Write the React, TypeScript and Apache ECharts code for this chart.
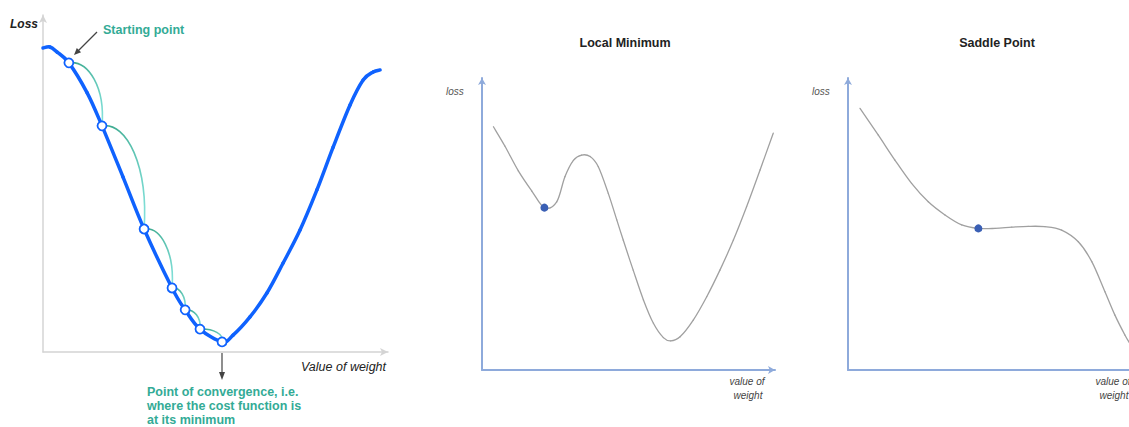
import React, { useEffect, useRef } from "react";
import * as echarts from "echarts";

// ---- Left panel: gradient descent on a loss curve ----
const leftWeight = [0, 2.0, 4.1, 7.5, 12.8, 17.1, 23.2, 29.3, 37.4, 41.2, 45.5, 51.9, 55.1, 60.0, 64.9, 69.6, 74.5, 79.4, 84.1, 89.0, 92.8, 95.7, 97.7];
const leftLoss = [90.2, 90.5, 89.0, 85.8, 76.9, 67.1, 51.9, 36.5, 19.0, 12.5, 6.8, 3.0, 5.0, 10.4, 17.5, 26.4, 36.2, 48.1, 60.8, 73.3, 80.7, 83.1, 83.7];
const stepWeight = [7.5, 17.1, 29.3, 37.4, 41.2, 45.5, 51.9];
const stepLoss = [85.8, 67.1, 36.5, 19.0, 12.5, 6.8, 3.0];

// ---- Middle panel: local minimum ----
const localWeight = [3.9, 7.8, 12.4, 17.0, 21.3, 25.5, 28.3, 31.2, 34.0, 36.9, 39.7, 43.1, 46.0, 48.2, 51.6, 55.1, 58.5, 61.9, 64.4, 67.6, 72.1, 76.7, 81.2, 85.8, 90.3, 94.9, 99.4];
const localLoss = [83.3, 76.7, 68.2, 61.3, 55.6, 57.6, 66.2, 71.8, 73.6, 73.1, 69.6, 60.5, 51.4, 44.5, 34.2, 24.0, 16.0, 11.1, 10.0, 11.4, 17.1, 25.1, 34.2, 44.5, 55.9, 68.5, 81.1];
const localPoint = [21.3, 55.6];

// ---- Right panel: saddle point ----
const saddleWeight = [4.1, 10.3, 16.0, 21.7, 27.4, 33.1, 38.8, 44.5, 50.2, 55.9, 61.5, 67.2, 72.9, 78.6, 83.2, 87.7, 91.1, 94.5, 96.2];
const saddleLoss = [89.6, 80.5, 71.9, 63.9, 57.6, 53.1, 49.7, 48.5, 48.5, 48.9, 49.2, 49.1, 47.9, 43.9, 37.1, 26.8, 18.8, 12.0, 9.1];
const saddlePoint = [44.5, 48.5];

const titles = ["Local Minimum", "Saddle Point"];

const FONT = '"Liberation Sans", Arial, sans-serif';
const TEAL = "#33ab96";
const BLUE = "#0f62fe";

const zip = (a: number[], b: number[]) => a.map((v, i) => [v, b[i]]);

function axisPair(gridIndex: number, color: string, width: number, arrow: number[]) {
  const common = {
    gridIndex,
    type: "value" as const,
    min: 0,
    max: 100,
    axisTick: { show: false },
    axisLabel: { show: false },
    splitLine: { show: false },
    axisLine: {
      show: true,
      symbol: ["none", "arrow"],
      symbolSize: arrow,
      lineStyle: { color, width },
    },
  };
  return { x: { ...common }, y: { ...common } };
}

// Smooth curve through the data points (Catmull-Rom segments), positioned by the axes.
function curveSeries(axis: number, xs: number[], ys: number[], stroke: string, lineWidth: number, z: number) {
  const pts = zip(xs, ys);
  return {
    type: "custom",
    xAxisIndex: axis,
    yAxisIndex: axis,
    z,
    silent: true,
    clip: false,
    data: pts,
    renderItem: (params: any, api: any) => {
      const i = params.dataIndex;
      if (i >= pts.length - 1) return null;
      const c = (k: number) => api.coord(pts[Math.max(0, Math.min(pts.length - 1, k))]);
      const p0 = c(i - 1);
      const p1 = c(i);
      const p2 = c(i + 1);
      const p3 = c(i + 2);
      const t = 1 / 6;
      return {
        type: "bezierCurve",
        shape: {
          x1: p1[0],
          y1: p1[1],
          x2: p2[0],
          y2: p2[1],
          cpx1: p1[0] + (p2[0] - p0[0]) * t,
          cpy1: p1[1] + (p2[1] - p0[1]) * t,
          cpx2: p2[0] - (p3[0] - p1[0]) * t,
          cpy2: p2[1] - (p3[1] - p1[1]) * t,
        },
        style: { stroke, lineWidth, fill: "none", lineCap: "round" },
      };
    },
  };
}

export default function App() {
  const ref = useRef<HTMLDivElement>(null);

  useEffect(() => {
    if (!ref.current) return;
    const chart = echarts.init(ref.current, undefined, { renderer: "svg" });

    const a0 = axisPair(0, "#d4d4d4", 1.5, [6, 8]);
    const a1 = axisPair(1, "#8eaadb", 2, [6, 7]);
    const a2 = axisPair(2, "#8eaadb", 2, [6, 7]);

    const arcs = stepWeight.slice(0, -1).map((w, i) => [w, stepLoss[i], stepWeight[i + 1], stepLoss[i + 1]]);

    const arcGradient = new echarts.graphic.LinearGradient(0, 0, 1, 1, [
      { offset: 0, color: "#35a487" },
      { offset: 1, color: "#86e4de" },
    ]);

    const text = (x: number, y: number, t: string, font: string, fill: string, align = "left") => ({
      type: "text",
      x,
      y,
      silent: true,
      style: { text: t, font, fill, align, verticalAlign: "middle" },
    });

    chart.setOption({
      animation: false,
      backgroundColor: "#ffffff",
      grid: [
        { left: 43, top: 15, width: 345, height: 337, outerBoundsMode: "none" },
        { left: 482, top: 78, width: 293, height: 292, outerBoundsMode: "none" },
        { left: 848, top: 78, width: 293, height: 292, outerBoundsMode: "none" },
      ],
      xAxis: [a0.x, a1.x, a2.x],
      yAxis: [a0.y, a1.y, a2.y],
      series: [
        {
          type: "custom",
          xAxisIndex: 0,
          yAxisIndex: 0,
          z: 1,
          silent: true,
          data: arcs,
          renderItem: (_p: any, api: any) => {
            const p0 = api.coord([api.value(0), api.value(1)]);
            const p1 = api.coord([api.value(2), api.value(3)]);
            const dx = p1[0] - p0[0];
            const dy = p1[1] - p0[1];
            return {
              type: "bezierCurve",
              shape: {
                x1: p0[0],
                y1: p0[1],
                x2: p1[0],
                y2: p1[1],
                cpx1: p0[0] + 0.6 * dx,
                cpy1: p0[1] - 0.04 * dy,
                cpx2: p1[0] + 0.1 * dx,
                cpy2: p1[1] - 0.6 * dy,
              },
              style: { stroke: arcGradient, lineWidth: 1.6, fill: "none" },
            };
          },
        },
        curveSeries(0, leftWeight, leftLoss, BLUE, 3.5, 2),
        {
          type: "scatter",
          xAxisIndex: 0,
          yAxisIndex: 0,
          z: 3,
          data: zip(stepWeight, stepLoss),
          symbol: "circle",
          symbolSize: 9,
          silent: true,
          itemStyle: { color: "#ffffff", borderColor: BLUE, borderWidth: 1.8, opacity: 1 },
        },
        curveSeries(1, localWeight, localLoss, "#a0a0a0", 1.3, 2),
        {
          type: "scatter",
          xAxisIndex: 1,
          yAxisIndex: 1,
          z: 3,
          data: [localPoint],
          symbolSize: 8,
          silent: true,
          itemStyle: { color: "#3a5fb4", opacity: 1 },
        },
        curveSeries(2, saddleWeight, saddleLoss, "#a0a0a0", 1.3, 2),
        {
          type: "scatter",
          xAxisIndex: 2,
          yAxisIndex: 2,
          z: 3,
          data: [saddlePoint],
          symbolSize: 8,
          silent: true,
          itemStyle: { color: "#3a5fb4", opacity: 1 },
        },
      ],
      graphic: [
        text(10, 24, "Loss", `italic bold 12px ${FONT}`, "#222222"),
        text(103, 30, "Starting point", `bold 12.5px ${FONT}`, TEAL),
        text(301, 367, "Value of weight", `italic 12.5px ${FONT}`, "#222222"),
        text(147, 392, "Point of convergence, i.e.", `bold 12.5px ${FONT}`, TEAL),
        text(147, 406, "where the cost function is", `bold 12.5px ${FONT}`, TEAL),
        text(147, 420, "at its minimum", `bold 12.5px ${FONT}`, TEAL),
        {
          type: "line",
          silent: true,
          shape: { x1: 97, y1: 32, x2: 77, y2: 52 },
          style: { stroke: "#444444", lineWidth: 1.2 },
        },
        {
          type: "polygon",
          silent: true,
          shape: { points: [[74, 55], [81.1, 52.2], [76.8, 47.9]] },
          style: { fill: "#444444" },
        },
        {
          type: "line",
          silent: true,
          shape: { x1: 222, y1: 353, x2: 222, y2: 374 },
          style: { stroke: "#444444", lineWidth: 1.2 },
        },
        {
          type: "polygon",
          silent: true,
          shape: { points: [[222, 380], [219, 372], [225, 372]] },
          style: { fill: "#444444" },
        },
        text(625, 43, titles[0], `bold 12.5px ${FONT}`, "#222222", "center"),
        text(997, 43, titles[1], `bold 12.5px ${FONT}`, "#222222", "center"),
        text(446, 91, "loss", `italic 10px ${FONT}`, "#555555"),
        text(812, 91, "loss", `italic 10px ${FONT}`, "#555555"),
        text(747, 381, "value of", `italic 10px ${FONT}`, "#444444", "center"),
        text(748, 395, "weight", `italic 10px ${FONT}`, "#444444", "center"),
        text(1113, 381, "value of", `italic 10px ${FONT}`, "#444444", "center"),
        text(1114, 395, "weight", `italic 10px ${FONT}`, "#444444", "center"),
      ],
    });

    return () => chart.dispose();
  }, []);

  return (
    <div
      ref={ref}
      style={{ position: "fixed", left: 0, top: 0, width: 1129, height: 427, background: "#fff" }}
    />
  );
}
